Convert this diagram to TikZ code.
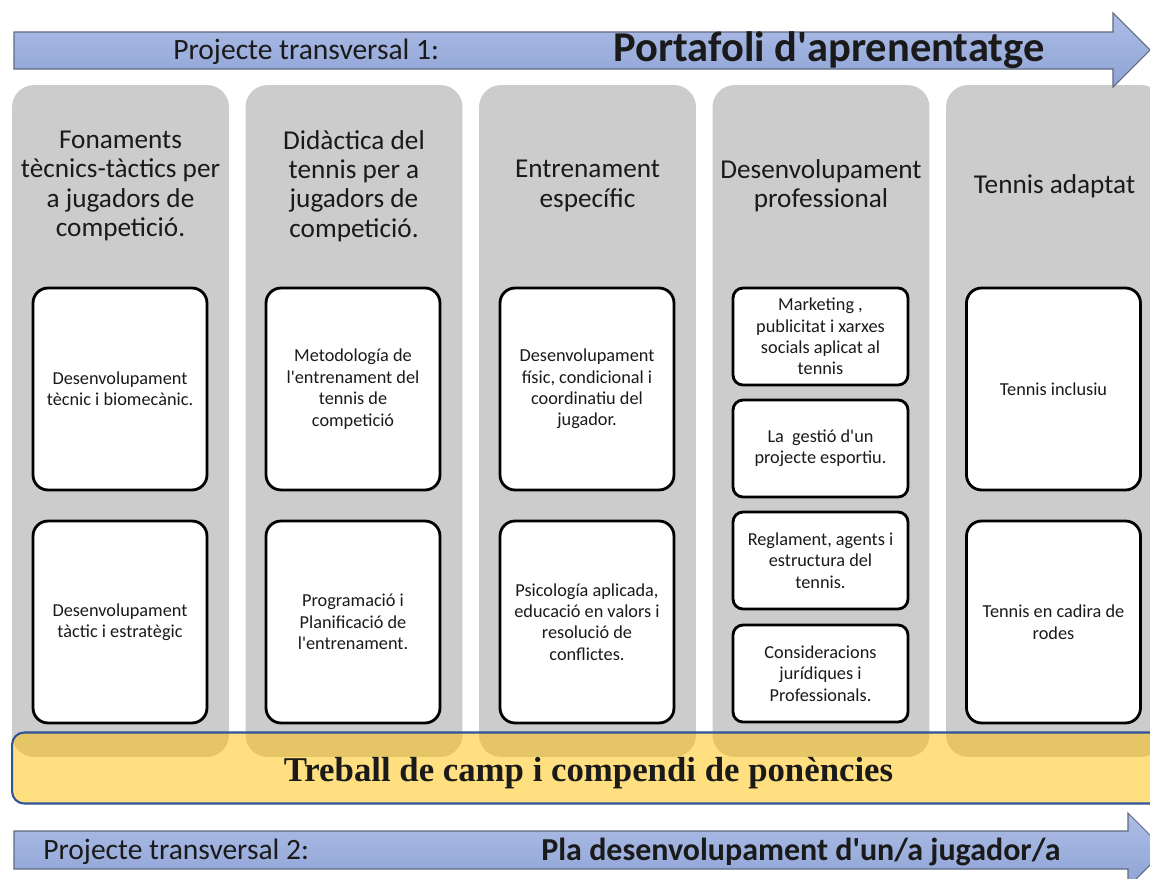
\documentclass[tikz,border=0pt]{standalone}
\usepackage{fontspec}
\setmainfont{Carlito}
\newfontfamily\bandfont{Liberation Serif}
\usepackage{xcolor}
\usepackage{tikz}
\usetikzlibrary{positioning}
\definecolor{colgray}{HTML}{CCCCCC}
\definecolor{bandyellow}{HTML}{FFC000}
\definecolor{bandblue}{HTML}{2F5597}
\definecolor{arrowtop}{HTML}{ADBDE5}
\definecolor{arrowbot}{HTML}{8EA3D6}
\definecolor{arrowedge}{HTML}{5E6A80}
\definecolor{inktext}{HTML}{1A1A1A}
\newcommand{\apos}{\textquotesingle}

\begin{document}
\begin{tikzpicture}[
    x=0.02cm, y=-0.02cm,
    every node/.style={text=inktext},
    column/.style={
        rectangle,
        rounded corners=0.44cm,
        fill=colgray,
        minimum width=4.34cm,
        minimum height=13.44cm,
        inner sep=0pt
    },
    heading/.style={
        align=center,
        font=\fontsize{15.5}{16.6}\selectfont
    },
    itembox/.style={
        rectangle,
        rounded corners=0.3cm,
        draw=black,
        fill=white,
        line width=1.6pt,
        minimum width=3.48cm,
        minimum height=4.04cm,
        inner sep=2pt,
        align=center,
        font=\fontsize{10.4}{12.2}\selectfont
    },
    smallbox/.style={
        itembox,
        rounded corners=0.2cm,
        minimum width=3.5cm,
        minimum height=1.94cm
    },
    band/.style={
        rectangle,
        rounded corners=0.24cm,
        draw=bandblue,
        line width=1.2pt,
        fill=bandyellow,
        fill opacity=0.5,
        text opacity=1,
        minimum width=23.06cm,
        minimum height=1.42cm,
        text height=16pt,
        text depth=1pt,
        font=\bandfont\bfseries\fontsize{19.8}{22}\selectfont
    },
    arrowband/.style={
        draw=arrowedge,
        line width=0.6pt,
        top color=arrowtop,
        bottom color=arrowbot
    },
    plaintext/.style={
        anchor=west,
        inner sep=0pt,
        font=\fontsize{16.8}{18}\selectfont
    },
    boldtext/.style={
        anchor=west,
        inner sep=0pt,
        font=\bfseries\fontsize{24.2}{26}\selectfont
    }
]

\clip (0,0) rectangle (1150,879);

% Columns
\node[column] (col1) at (120.5,421) {};
\node[column] (col2) at (354,421) {};
\node[column] (col3) at (587.5,421) {};
\node[column] (col4) at (821,421) {};
\node[column] (col5) at (1054.5,421) {};

% Column headings
\node[heading] (head1) at (120.5,186) {Fonaments\\tècnics-tàctics per\\a jugadors de\\competició.};
\node[heading] (head2) at (354,186) {Didàctica del\\tennis per a\\jugadors de\\competició.};
\node[heading] (head3) at (587.5,186) {Entrenament\\específic};
\node[heading] (head4) at (821,186) {Desenvolupament\\professional};
\node[heading] (head5) at (1054.5,186) {Tennis adaptat};

% Item boxes
\node[itembox] (tecnic) at (120,389) {Desenvolupament\\tècnic i biomecànic.};
\node[itembox] (tactic) at (120,622) {Desenvolupament\\tàctic i estratègic};
\node[itembox] (metode) at (353,389) {Metodología de\\l\apos entrenament del\\tennis de\\competició};
\node[itembox] (progr) at (353,622) {Programació i\\Planificació de\\l\apos entrenament.};
\node[itembox] (fisic) at (587,389) {Desenvolupament\\físic, condicional i\\coordinatiu del\\jugador.};
\node[itembox] (psico) at (587,622) {Psicología aplicada,\\educació en valors i\\resolució de\\conflictes.};
\node[smallbox] (market) at (820.5,336.5) {Marketing ,\\publicitat i xarxes\\socials aplicat al\\tennis};
\node[smallbox] (gestio) at (820.5,448.5) {La~ gestió d\apos un\\projecte esportiu.};
\node[smallbox] (reglam) at (820.5,560.5) {Reglament, agents i\\estructura del\\tennis.};
\node[smallbox] (jurid) at (820.5,673.5) {Consideracions\\jurídiques i\\Professionals.};
\node[itembox] (inclus) at (1053.5,389) {Tennis inclusiu};
\node[itembox] (cadira) at (1053.5,622) {Tennis en cadira de\\rodes};

% Field work band
\node[band] (camp) at (588.5,768) {Treball de camp i compendi de ponències};

% Transversal arrows
\path[arrowband] (14,32) -- (1113,32) -- (1113,13) -- (1150,50)
    -- (1113,87) -- (1113,69) -- (14,69) -- cycle;
\node[plaintext] (proj1) at (173,52) {Projecte transversal 1:};
\node[boldtext] (porta) at (613,50) {Portafoli d\apos aprenentatge};

\path[arrowband] (14,831) -- (1128,831) -- (1128,813) -- (1165,850)
    -- (1128,887) -- (1128,869) -- (14,869) -- cycle;
\node[plaintext] (proj2) at (43,852) {Projecte transversal 2:};
\node[boldtext, font=\bfseries\fontsize{18.2}{20}\selectfont] (pla) at (541,852) {Pla desenvolupament d\apos un/a jugador/a};

\end{tikzpicture}
\end{document}
